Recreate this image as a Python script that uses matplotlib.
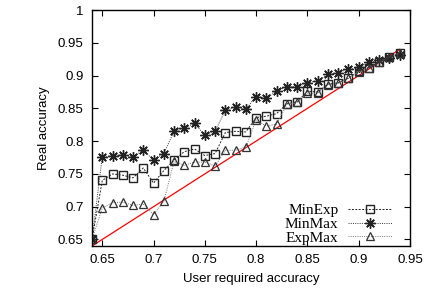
import matplotlib
matplotlib.use("Agg")
import matplotlib.pyplot as plt
import numpy as np

# user required accuracy (x) and measured real accuracy per strategy
req = [0.64, 0.65, 0.66, 0.67, 0.68, 0.69, 0.70, 0.71, 0.72, 0.73, 0.74,
       0.75, 0.76, 0.77, 0.78, 0.79, 0.80, 0.81, 0.82, 0.83, 0.84, 0.85,
       0.86, 0.87, 0.88, 0.89, 0.90, 0.91, 0.92, 0.93, 0.94]
min_exp = [0.650, 0.740, 0.750, 0.748, 0.744, 0.759, 0.736, 0.755, 0.771, 0.784, 0.788,
           0.778, 0.781, 0.813, 0.815, 0.814, 0.836, 0.838, 0.842, 0.857, 0.860, 0.876,
           0.875, 0.887, 0.889, 0.896, 0.907, 0.912, 0.921, 0.928, 0.935]
min_max = [0.650, 0.776, 0.778, 0.779, 0.776, 0.786, 0.771, 0.781, 0.815, 0.820, 0.827,
           0.809, 0.815, 0.847, 0.852, 0.849, 0.868, 0.866, 0.876, 0.883, 0.883, 0.889,
           0.892, 0.902, 0.904, 0.910, 0.913, 0.920, 0.924, 0.927, 0.932]
exp_max = [0.650, 0.698, 0.706, 0.707, 0.702, 0.704, 0.688, 0.708, 0.769, 0.763, 0.768,
           0.768, 0.762, 0.786, 0.786, 0.791, 0.832, 0.823, 0.826, 0.856, 0.859, 0.873,
           0.873, 0.886, 0.888, 0.896, 0.906, 0.912, 0.920, 0.928, 0.935]
diag = [0.64, 0.94]

sans = ['Liberation Sans', 'DejaVu Sans']
serif = ['Liberation Serif', 'DejaVu Serif']

fig = plt.figure(figsize=(4.35, 2.97), dpi=100)
ax = fig.add_axes([0.2115, 0.1717, 0.731, 0.7946])

ax.plot(diag, diag, color='red', lw=0.9, zorder=1)
ax.plot(req, min_exp, color='#222222', ls=(0, (2, 1.5)), lw=0.7,
        marker='s', ms=6, mfc='none', mec='#222222', mew=1.0, label='MinExp')
ax.plot(req, min_max, color='#333333', ls=(0, (1, 1.3)), lw=0.7,
        marker=(8, 2, 0), ms=7.5, mec='#222222', mew=1.0, label='MinMax')
ax.plot(req, exp_max, color='#777777', ls=(0, (1, 1.3)), lw=0.7,
        marker='^', ms=6, mfc='none', mec='#333333', mew=0.9, label='ExpMax')

ax.set_xlim(0.64, 0.95)
ax.set_ylim(0.64, 1.0)
ax.set_xticks(np.arange(0.65, 0.951, 0.05))
ax.set_yticks(np.arange(0.65, 1.001, 0.05))
ax.set_xticklabels(['0.65', '0.7', '0.75', '0.8', '0.85', '0.9', '0.95'])
ax.set_yticklabels(['0.65', '0.7', '0.75', '0.8', '0.85', '0.9', '0.95', '1'])
ax.tick_params(direction='in', top=True, right=True, length=4, width=0.8,
               labelsize=9.5, pad=6)
for lab in ax.get_xticklabels() + ax.get_yticklabels():
    lab.set_family(sans)
for s in ax.spines.values():
    s.set_linewidth(1.0)

ax.set_xlabel('User required accuracy', family=sans, fontsize=9.5, labelpad=5)
ax.set_ylabel('Real accuracy', family=sans, fontsize=9.5, labelpad=6)

leg = ax.legend(loc='lower right', bbox_to_anchor=(0.943, 0.005), frameon=False,
                markerfirst=False, prop={'family': serif, 'size': 11},
                handlelength=2.9, labelspacing=0.0, borderpad=0,
                borderaxespad=0, handletextpad=0.6)
for t in leg.get_texts():
    t.set_ha('right')

fig.savefig('out.png', dpi=100)
